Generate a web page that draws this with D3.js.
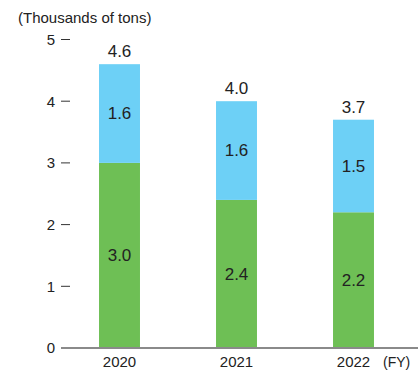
<!DOCTYPE html>
<html>
<head>
<meta charset="utf-8">
<script src="https://cdn.jsdelivr.net/npm/d3@7"></script>
<style>
  html, body { margin: 0; padding: 0; background: #fff; }
  svg { display: block; }
  text { font-family: "Liberation Sans", Arial, sans-serif; fill: #222; }
</style>
</head>
<body>
<svg id="chart" width="418" height="371"></svg>
<script>
// Fiscal years and stacked series (thousands of tons)
const years = ["2020", "2021", "2022"];
const lowerValues = [3.0, 2.4, 2.2];   // green segment
const upperValues = [1.6, 1.6, 1.5];   // blue segment
const totals = [4.6, 4.0, 3.7];
const yTicks = [0, 1, 2, 3, 4, 5];

const colors = { lower: "#6ebf55", upper: "#6dd0f6", axis: "#8a8a8a" };

const svg = d3.select("#chart");

const x = d3.scaleBand()
  .domain(years)
  .range([61, 412])
  .paddingInner(0.65)
  .paddingOuter(0.325);

const y = d3.scaleLinear().domain([0, 5]).range([348, 39.5]);

// Unit label
svg.append("text")
  .attr("x", 18).attr("y", 23)
  .attr("font-size", 15)
  .text("(Thousands of tons)");

// Y tick labels with short dashes
const yt = svg.append("g");
yTicks.forEach(t => {
  yt.append("text")
    .attr("x", 55).attr("y", y(t))
    .attr("dy", "0.36em")
    .attr("text-anchor", "end")
    .attr("font-size", 15)
    .text(t);
  if (t > 0) {
    yt.append("line")
      .attr("x1", 61).attr("x2", 70)
      .attr("y1", y(t)).attr("y2", y(t))
      .attr("stroke", "#333").attr("stroke-width", 1);
  }
});

// Stacked bars
const rows = years.map((yr, i) => ({ year: yr, lower: lowerValues[i], upper: upperValues[i], total: totals[i] }));
const stack = d3.stack().keys(["lower", "upper"])(rows);

svg.append("g").selectAll("g")
  .data(stack)
  .join("g")
  .attr("fill", d => colors[d.key])
  .selectAll("rect")
  .data(d => d)
  .join("rect")
  .attr("x", d => x(d.data.year))
  .attr("width", x.bandwidth())
  .attr("y", d => y(d[1]))
  .attr("height", d => y(d[0]) - y(d[1]));

// Segment labels
stack.forEach(layer => {
  svg.append("g").selectAll("text")
    .data(layer)
    .join("text")
    .attr("x", d => x(d.data.year) + x.bandwidth() / 2)
    .attr("y", d => (y(d[0]) + y(d[1])) / 2)
    .attr("dy", "0.34em")
    .attr("text-anchor", "middle")
    .attr("font-size", 17)
    .text(d => d.data[layer.key].toFixed(1));
});

// Totals above bars
svg.append("g").selectAll("text")
  .data(rows)
  .join("text")
  .attr("x", d => x(d.year) + x.bandwidth() / 2)
  .attr("y", d => y(d.total) - 7)
  .attr("text-anchor", "middle")
  .attr("font-size", 17)
  .text(d => d.total.toFixed(1));

// Baseline
svg.append("line")
  .attr("x1", 61).attr("x2", 418)
  .attr("y1", y(0)).attr("y2", y(0))
  .attr("stroke", colors.axis).attr("stroke-width", 2);

// Year labels
svg.append("g").selectAll("text")
  .data(years)
  .join("text")
  .attr("x", d => x(d) + x.bandwidth() / 2)
  .attr("y", 367)
  .attr("text-anchor", "middle")
  .attr("font-size", 15)
  .text(d => d);

svg.append("text")
  .attr("x", 383).attr("y", 367)
  .attr("font-size", 14)
  .text("(FY)");
</script>
</body>
</html>
